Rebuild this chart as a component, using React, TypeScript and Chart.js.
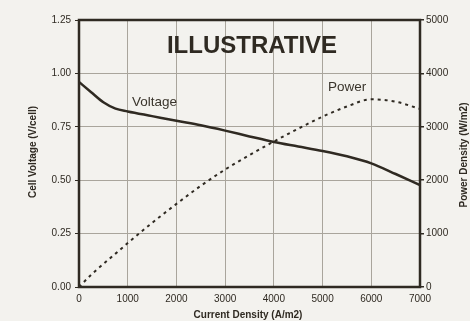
import React, { useEffect, useRef } from "react";
import { Chart, registerables } from "chart.js";

Chart.register(...registerables);

const currentDensity = [0, 250, 500, 750, 1000, 1500, 2000, 2500, 3000, 3500, 4000, 4500, 5000, 5500, 6000, 6500, 7000];
const cellVoltage = [0.96, 0.912, 0.865, 0.835, 0.822, 0.8, 0.778, 0.757, 0.732, 0.705, 0.679, 0.658, 0.637, 0.612, 0.579, 0.529, 0.477];
const powerDensity = [0, 230, 432, 625, 822, 1200, 1556, 1895, 2200, 2470, 2725, 2965, 3190, 3380, 3515, 3470, 3335];
const voltageTicks = [0, 0.25, 0.5, 0.75, 1.0, 1.25];
const powerTicks = [0, 1000, 2000, 3000, 4000, 5000];
const xTicks = [0, 1000, 2000, 3000, 4000, 5000, 6000, 7000];

const INK = "#2f2a22";
const GRID = "#a9a59c";
const BG = "#f3f2ee";
const FONT = "'Liberation Sans', Arial, sans-serif";

const decorPlugin = {
  id: "decor",
  beforeDraw(chart: any) {
    const { ctx } = chart;
    ctx.save();
    ctx.fillStyle = BG;
    ctx.fillRect(0, 0, chart.width, chart.height);
    ctx.restore();
  },
  afterDatasetsDraw(chart: any) {
    const { ctx, chartArea: a } = chart;
    ctx.save();
    ctx.strokeStyle = INK;
    ctx.lineWidth = 2.5;
    ctx.strokeRect(a.left, a.top, a.right - a.left, a.bottom - a.top);

    ctx.fillStyle = INK;
    ctx.textAlign = "center";
    ctx.textBaseline = "alphabetic";
    ctx.font = `bold 24px ${FONT}`;
    ctx.fillText("ILLUSTRATIVE", 252, 53);

    ctx.fillStyle = "#3a352c";
    ctx.font = `13.5px ${FONT}`;
    ctx.textAlign = "left";
    ctx.fillText("Voltage", 132, 106);
    ctx.fillText("Power", 328, 91);

    ctx.fillStyle = INK;
    ctx.font = `bold 10px ${FONT}`;
    ctx.textAlign = "center";
    ctx.textBaseline = "middle";
    ctx.fillText("Current Density (A/m2)", 248, 315);

    ctx.save();
    ctx.translate(33, 152);
    ctx.rotate(-Math.PI / 2);
    ctx.fillText("Cell Voltage (V/cell)", 0, 0);
    ctx.restore();

    ctx.save();
    ctx.translate(464, 155);
    ctx.rotate(-Math.PI / 2);
    ctx.fillText("Power Density (W/m2)", 0, 0);
    ctx.restore();
    ctx.restore();
  },
};

export default function App() {
  const ref = useRef<HTMLCanvasElement | null>(null);
  useEffect(() => {
    document.body.style.margin = "0";
    const canvas = ref.current;
    if (!canvas) return;
    const tickFont = { family: FONT, size: 10 };
    const chart = new Chart(canvas, {
      type: "line",
      data: {
        labels: currentDensity,
        datasets: [
          {
            label: "Voltage",
            data: currentDensity.map((x, i) => ({ x, y: cellVoltage[i] })),
            yAxisID: "y",
            borderColor: INK,
            borderWidth: 2.5,
            pointRadius: 0,
            cubicInterpolationMode: "monotone",
            fill: false,
          },
          {
            label: "Power",
            data: currentDensity.map((x, i) => ({ x, y: powerDensity[i] })),
            yAxisID: "y1",
            borderColor: INK,
            borderWidth: 2,
            borderDash: [3, 4],
            pointRadius: 0,
            cubicInterpolationMode: "monotone",
            fill: false,
          },
        ],
      },
      options: {
        responsive: false,
        animation: false,
        layout: { padding: { top: 20, left: 0, right: 0, bottom: 0 } },
        plugins: { legend: { display: false }, tooltip: { enabled: false } },
        scales: {
          x: {
            type: "linear",
            min: 0,
            max: 7000,
            afterBuildTicks: (s: any) => { s.ticks = xTicks.map((v) => ({ value: v })); },
            afterFit: (s: any) => { s.height = 34; },
            grid: { color: GRID, lineWidth: 1, drawTicks: false },
            border: { display: false },
            ticks: { color: INK, font: tickFont, padding: 6, maxRotation: 0, callback: (v: any) => String(v) },
          },
          y: {
            position: "left",
            min: 0,
            max: 1.25,
            afterBuildTicks: (s: any) => { s.ticks = voltageTicks.map((v) => ({ value: v })); },
            afterFit: (s: any) => { s.width = 79; },
            grid: { color: GRID, lineWidth: 1, drawTicks: true, tickLength: 4, tickColor: INK },
            border: { display: false },
            ticks: { color: INK, font: tickFont, padding: 4, callback: (v: any) => Number(v).toFixed(2) },
          },
          y1: {
            position: "right",
            min: 0,
            max: 5000,
            afterBuildTicks: (s: any) => { s.ticks = powerTicks.map((v) => ({ value: v })); },
            afterFit: (s: any) => { s.width = 50; },
            grid: { drawOnChartArea: false, drawTicks: true, tickLength: 4, tickColor: INK, lineWidth: 1.5 },
            border: { display: false },
            ticks: { color: INK, font: tickFont, padding: 2, callback: (v: any) => String(v) },
          },
        },
      },
      plugins: [decorPlugin],
    } as any);
    return () => chart.destroy();
  }, []);
  return (
    <div style={{ width: 470, height: 321, background: BG }}>
      <canvas ref={ref} width={470} height={321} style={{ display: "block" }} />
    </div>
  );
}
